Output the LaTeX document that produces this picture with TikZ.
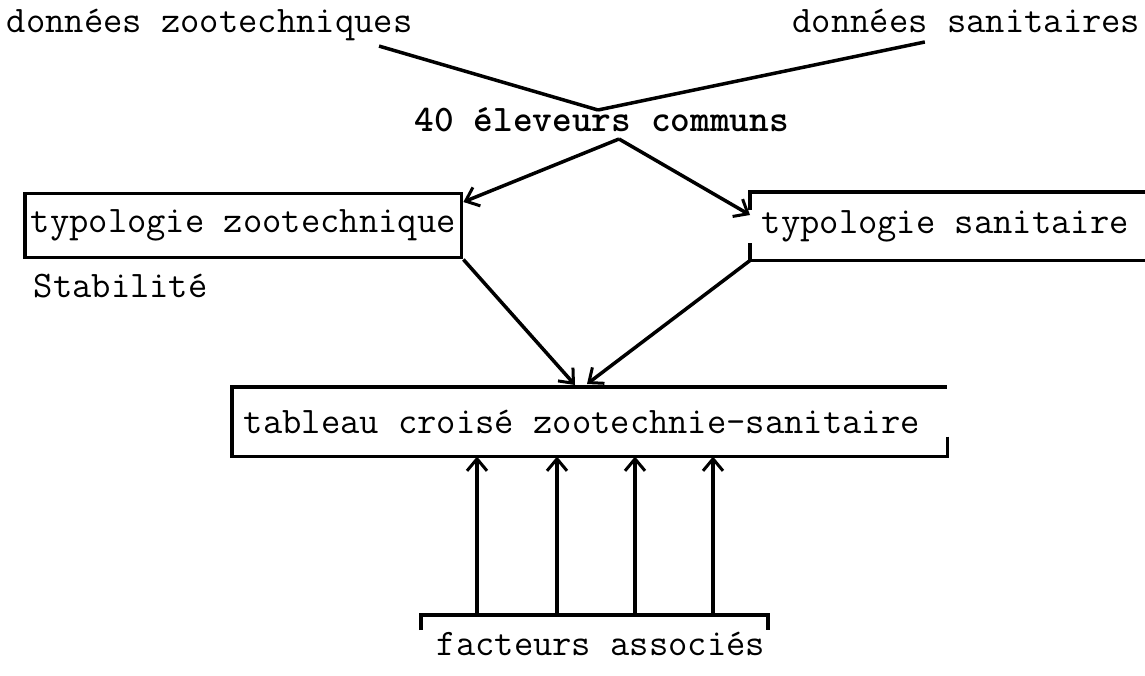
\documentclass[tikz,border=0pt]{standalone}
\usepackage{fontspec}
\usepackage{tikz}
\usetikzlibrary{arrows.meta,positioning}

\begin{document}
\begin{tikzpicture}[x=1pt, y=-1pt, line width=3.5pt,
  font=\fontsize{37.5}{45}\selectfont\ttfamily,
  lbl/.style={inner sep=0pt, anchor=base west},
  box/.style={anchor=north west, inner xsep=10pt, inner ysep=0pt},
  arr/.style={-{Straight Barb[length=12pt, width=20pt, line width=3pt]}}]
\useasboundingbox (0,0) rectangle (1145,676);

\node[lbl] (dz) at (5,33) {données zootechniques};
\node[lbl, anchor=base east] (ds) at (1142,33) {données sanitaires};
\node[lbl, font=\fontsize{37.5}{45}\selectfont\ttfamily\bfseries] (ec) at (413,132) {40 éleveurs communs};
\coordinate (meet) at (598,110);
\coordinate (split) at (619,139);

\node[box, draw, inner xsep=6pt, minimum height=64pt] (tz) at (23,192) {typologie zootechnique};
\node[box, minimum height=65pt] (ts) at (750,192) {typologie sanitaire};
\node[lbl] (stab) at (32,298) {Stabilité};
\node[box, inner xsep=10pt, minimum height=66pt] (tc) at (232,387) {tableau croisé zootechnie-sanitaire};
\node[lbl] (fa) at (435,655) {facteurs associés};
\coordinate (bl) at (421,615);
\coordinate (br) at (768,615);

% open sides
\draw ([xshift=20pt]ts.north east) -- (ts.north west) -- ++(0,18);
\draw ([yshift=17pt]ts.south west) -- (ts.south west) -- ([xshift=20pt]ts.south east);
\draw ([xshift=16pt,yshift=20pt]tc.south east) -- ([xshift=16pt]tc.south east) -- (tc.south west) -- (tc.north west) -- ([xshift=16pt]tc.north east);
\draw ([yshift=-15pt]bl) -- (bl) -- (br) -- ([yshift=-15pt]br);

% connectors
\draw ([xshift=-35pt,yshift=-3pt]dz.south east) -- (meet);
\draw ([xshift=134pt,yshift=-7pt]ds.south west) -- (meet);
\draw[arr] (split) -- ([yshift=-10pt]tz.north east);
\draw[arr] (split) -- ([yshift=-23pt]ts.north west);
\draw[arr] (tz.south east) -- ([xshift=343pt,yshift=2pt]tc.north west);
\draw[arr] (ts.south west) -- ([xshift=355pt,yshift=3pt]tc.north west);
\foreach \x in {477,557,635,713}
  \draw[arr, line width=4pt] (bl -| \x,0) -- (tc.south -| \x,0);
\end{tikzpicture}
\end{document}
